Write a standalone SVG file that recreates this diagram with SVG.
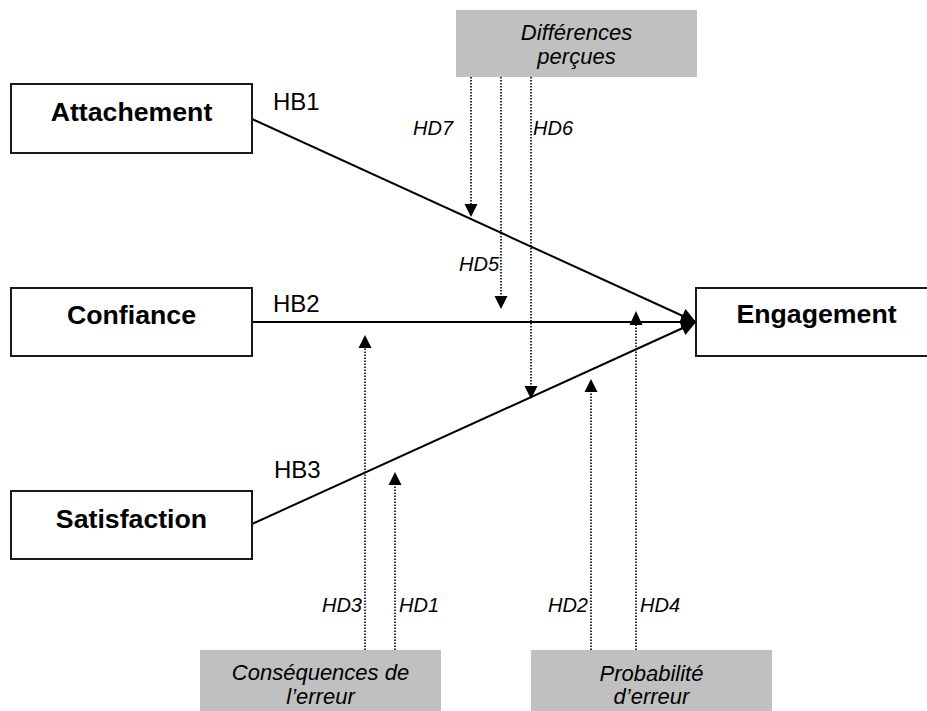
<svg xmlns="http://www.w3.org/2000/svg" width="927" height="711" viewBox="0 0 927 711">
<style>
.node rect{fill:#fff;stroke:#1a1a1a;stroke-width:2}
.node text{font-family:"Liberation Sans",Arial,sans-serif;font-weight:bold;font-size:26.7px;fill:#000;text-anchor:middle}
.mod rect{fill:#c0c0c0;stroke:none}
.mod text{font-family:"Liberation Sans",Arial,sans-serif;font-style:italic;font-size:22px;fill:#000;text-anchor:middle}
.main{stroke:#000;stroke-width:2;fill:none;marker-end:url(#ah)}
.dot{stroke:#000;stroke-width:1.6;stroke-dasharray:1.5 1.5;fill:none}
.tri{fill:#000}
.hb{font-family:"Liberation Sans",Arial,sans-serif;font-size:24px;fill:#000}
.hd{font-family:"Liberation Sans",Arial,sans-serif;font-style:italic;font-size:20px;fill:#000}
</style>
<defs>
<marker id="ah" viewBox="0 0 10 10" refX="10" refY="5" markerWidth="8.5" markerHeight="7.5" markerUnits="strokeWidth" orient="auto">
<path d="M0,0 L10,5 L0,10 z" fill="#000"/>
</marker>
</defs>
<rect width="927" height="711" fill="#fff"/>
<g id="connectors">
<line class="main" x1="252" y1="119" x2="696" y2="322"/>
<line class="main" x1="252" y1="322" x2="696" y2="322"/>
<line class="main" x1="252" y1="524" x2="696" y2="322"/>
<line class="dot" x1="471" y1="77" x2="471" y2="205"/>
<polygon class="tri" points="464.5,204 477.5,204 471,217"/>
<line class="dot" x1="501" y1="77" x2="501" y2="297"/>
<polygon class="tri" points="494.5,296 507.5,296 501,309"/>
<line class="dot" x1="531" y1="77" x2="531" y2="387"/>
<polygon class="tri" points="524.5,386 537.5,386 531,399"/>
<line class="dot" x1="365" y1="650" x2="365" y2="347"/>
<polygon class="tri" points="358.5,348 371.5,348 365,335"/>
<line class="dot" x1="395" y1="650" x2="395" y2="484"/>
<polygon class="tri" points="388.5,485 401.5,485 395,472"/>
<line class="dot" x1="591" y1="650" x2="591" y2="391"/>
<polygon class="tri" points="584.5,392 597.5,392 591,379"/>
<line class="dot" x1="636" y1="650" x2="636" y2="324"/>
<polygon class="tri" points="629.5,325 642.5,325 636,311"/>
<text class="hb" x="273" y="110">HB1</text>
<text class="hb" x="273" y="312">HB2</text>
<text class="hb" x="274" y="478">HB3</text>
<text class="hd" x="413" y="135">HD7</text>
<text class="hd" x="533" y="135">HD6</text>
<text class="hd" x="459" y="271">HD5</text>
<text class="hd" x="362" y="612" text-anchor="end">HD3</text>
<text class="hd" x="399" y="612">HD1</text>
<text class="hd" x="588" y="612" text-anchor="end">HD2</text>
<text class="hd" x="640" y="612">HD4</text>
</g>
<g id="attachement" class="node"><rect x="11" y="84" width="241" height="69"/><text x="131.5" y="121">Attachement</text></g>
<g id="confiance" class="node"><rect x="11" y="288" width="241" height="68"/><text x="131.5" y="324">Confiance</text></g>
<g id="satisfaction" class="node"><rect x="11" y="491" width="241" height="68"/><text x="131.5" y="528">Satisfaction</text></g>
<g id="engagement" class="node"><rect x="696" y="288" width="241" height="68"/><text x="816.5" y="323">Engagement</text></g>
<g id="differences" class="mod"><rect x="456" y="10" width="241" height="67"/><text x="576.5" y="40">Différences</text><text x="576.5" y="64">perçues</text></g>
<g id="consequences" class="mod"><rect x="200" y="650" width="241" height="65"/><text x="320.5" y="680">Conséquences de</text><text x="320.5" y="704">l’erreur</text></g>
<g id="probabilite" class="mod"><rect x="531" y="650" width="241" height="65"/><text x="651.5" y="681">Probabilité</text><text x="651.5" y="704">d’erreur</text></g>
</svg>
